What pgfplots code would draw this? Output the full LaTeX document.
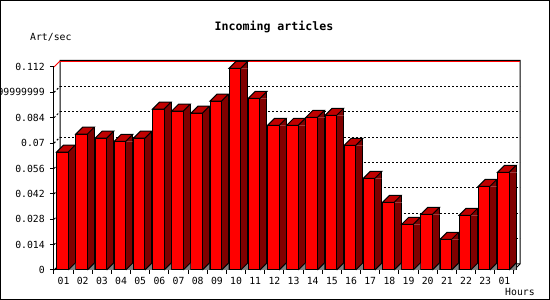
\documentclass[border=0pt]{standalone}
\usepackage{pgfplots}
\usepackage{pgfplotstable}
\pgfplotsset{compat=1.18}
\usepackage{fontspec}
\setmainfont{DejaVu Sans Mono}
\definecolor{frontred}{RGB}{255,0,0}
\definecolor{topred}{RGB}{192,0,0}
\definecolor{sidered}{RGB}{128,0,0}
\definecolor{floorgrey}{RGB}{128,128,128}

\pgfdeclareplotmark{topface}{%
  \pgfpathmoveto{\pgfqpoint{4.7pt}{0pt}}%
  \pgfpathlineto{\pgfqpoint{11.7pt}{7pt}}%
  \pgfpathlineto{\pgfqpoint{11.7pt}{0pt}}%
  \pgfpathclose
  \pgfsetfillcolor{sidered}\pgfusepathqfill
  \pgfpathmoveto{\pgfqpoint{11.7pt}{0pt}}%
  \pgfpathlineto{\pgfqpoint{11.7pt}{7pt}}%
  \pgfusepathqstroke
  \pgfpathmoveto{\pgfqpoint{-6.9pt}{0pt}}%
  \pgfpathlineto{\pgfqpoint{4.7pt}{0pt}}%
  \pgfpathlineto{\pgfqpoint{11.7pt}{7pt}}%
  \pgfpathlineto{\pgfqpoint{0.1pt}{7pt}}%
  \pgfpathclose
  \pgfsetfillcolor{topred}\pgfusepathqfillstroke
}
\pgfdeclareplotmark{floorface}{%
  \pgfpathmoveto{\pgfqpoint{4.7pt}{0pt}}%
  \pgfpathlineto{\pgfqpoint{11.7pt}{7pt}}%
  \pgfpathlineto{\pgfqpoint{11.7pt}{0pt}}%
  \pgfpathclose
  \pgfsetfillcolor{floorgrey}\pgfusepathqfill
  \pgfpathmoveto{\pgfqpoint{4.7pt}{0pt}}%
  \pgfpathlineto{\pgfqpoint{11.7pt}{7pt}}%
  \pgfusepathqstroke
}

\pgfplotstableread{
x v
0 0.0651
1 0.0750
2 0.0727
3 0.0710
4 0.0727
5 0.0888
6 0.0877
7 0.0865
8 0.0932
9 0.1113
10 0.0947
11 0.0798
12 0.0798
13 0.0842
14 0.0853
15 0.0688
16 0.0506
17 0.0373
18 0.0252
19 0.0307
20 0.0169
21 0.0302
22 0.0462
23 0.0539
}\datatable

\begin{document}
\begin{tikzpicture}
\useasboundingbox (0,0) rectangle (550pt,300pt);
\clip (0,0) rectangle (550pt,300pt);
\begin{scope}[x=1pt,y=1pt]
  % back wall grid
  \foreach \k in {1,...,7}{
    \draw[black, line width=1pt, dash pattern=on 2pt off 2pt] (60,{36+25.375*\k}) -- (520,{36+25.375*\k});
    \draw[black, line width=1pt, dash pattern=on 2pt off 2pt] (54,{30+25.375*\k}) -- (60,{36+25.375*\k});
  }
  \draw[black, line width=1pt] (60,36) -- (60,239.5) -- (520,239.5) -- (520,36) -- (514,30);
  \draw[black, line width=1pt] (54,30) -- (60,36) -- (520,36);
  \draw[red, line width=1pt] (60,238.5) -- (519.5,238.5);
  \draw[red, line width=1pt] (54,233) -- (60,239);
\end{scope}
\begin{axis}[
  at={(54pt,30pt)}, anchor=south west,
  scale only axis, width=460pt, height=203pt,
  xmin=-0.5, xmax=23.5, ymin=0, ymax=0.112,
  axis lines*=left,
  axis line style={line width=1pt, black},
  clip=false,
  ytick={0,0.014,0.028,0.042,0.056,0.07,0.084,0.098,0.112},
  yticklabels={0,0.014,0.028,0.042,0.056,0.07,0.084,0.0979999999999,0.112},
  xtick={0,...,23},
  xticklabels={01,02,03,04,05,06,07,08,09,10,11,12,13,14,15,16,17,18,19,20,21,22,23,01},
  minor xtick={-0.5,0.5,...,23.5},
  tick align=outside,
  major tick length=4pt, minor tick length=4pt,
  major x tick style={draw=none},
  tick style={black, line width=1pt},
  ticklabel style={font=\fontsize{9.8}{10}\selectfont, inner sep=0pt},
  yticklabel style={anchor=east, xshift=-5pt},
  xticklabel style={anchor=north, yshift=-3pt},
]
\addplot[ybar, bar width=7pt, bar shift=8.2pt, fill=sidered, draw=none] table[x=x,y=v]{\datatable};
\addplot[ybar, bar width=0pt, bar shift=11.7pt, draw=black, line width=1pt, fill=none] table[x=x,y=v]{\datatable};
\addplot[ybar, bar width=11.6pt, bar shift=-1.1pt, fill=frontred, draw=black, line width=1pt] table[x=x,y=v]{\datatable};
\addplot[only marks, mark=topface, draw=black, line width=1pt, mark options={solid}] table[x=x,y=v]{\datatable};
\addplot[only marks, mark=floorface, draw=black, line width=1pt, mark options={solid}] table[x=x,y expr=0]{\datatable};
\end{axis}
\begin{scope}[x=1pt,y=1pt]
  \node[font=\bfseries\fontsize{11.6}{12}\selectfont, inner sep=0pt] at (274,273) {Incoming articles};
  \node[font=\fontsize{9.8}{10}\selectfont, inner sep=0pt, anchor=west] at (30,263) {Art/sec};
  \node[font=\fontsize{9.8}{10}\selectfont, inner sep=0pt, anchor=west] at (505,8) {Hours};
  \draw[black, line width=1pt] (0.5,0.5) rectangle (549,299.5);
\end{scope}
\end{tikzpicture}
\end{document}
